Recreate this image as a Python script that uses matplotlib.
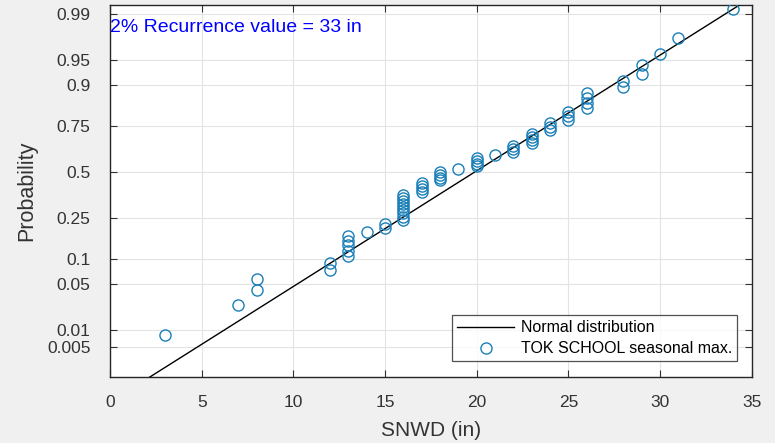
import numpy as np
import matplotlib
matplotlib.use("Agg")
import matplotlib.pyplot as plt
from statistics import NormalDist

# seasonal max snow depth (in), sorted
snwd = [3, 7, 8, 8, 12, 12,
        13, 13, 13, 13, 13, 14, 15, 15,
        16, 16, 16, 16, 16, 16, 16, 16, 16,
        17, 17, 17, 17, 18, 18, 18, 18, 19,
        20, 20, 20, 20, 21, 22, 22, 22,
        23, 23, 23, 23, 24, 24, 24, 25, 25, 25,
        26, 26, 26, 26, 28, 28, 29, 29, 30, 31, 34]

# fitted normal distribution
mu = 19.9
sigma = 5.87

prob_ticks = [0.005, 0.01, 0.05, 0.1, 0.25, 0.5, 0.75, 0.9, 0.95, 0.99]
prob_labels = ["0.005", "0.01", "0.05", "0.1", "0.25", "0.5", "0.75", "0.9", "0.95", "0.99"]
x_ticks = [0, 5, 10, 15, 20, 25, 30, 35]

nd = NormalDist()
_ppf = np.vectorize(lambda p: nd.inv_cdf(min(max(p, 1e-12), 1 - 1e-12)), otypes=[float])
_cdf = np.vectorize(lambda z: nd.cdf(z), otypes=[float])


def fwd(p):
    return _ppf(np.asarray(p, dtype=float))


def inv(z):
    return _cdf(np.asarray(z, dtype=float))


plt.rcParams["font.family"] = ["Liberation Sans", "DejaVu Sans"]

n = len(snwd)
pos = [(i + 0.5) / n for i in range(n)]

fig = plt.figure(figsize=(7.75, 4.43), dpi=100)
fig.patch.set_facecolor("#f0f0f0")
ax = fig.add_axes([0.142, 0.149, 0.828, 0.840])
ax.set_yscale("function", functions=(fwd, inv))

xl = np.array([0.0, 35.0])
ax.plot(xl, [NormalDist(mu, sigma).cdf(v) for v in xl], color="black", lw=1.0,
        label="Normal distribution", zorder=3)
ax.plot(snwd, pos, linestyle="none", marker="o", markersize=8, markerfacecolor="none",
        markeredgecolor="#1a7fb8", markeredgewidth=1.0,
        label="TOK SCHOOL seasonal max.", zorder=4)

ax.set_xlim(0, 35)
ax.set_ylim(NormalDist().cdf(-3.02), NormalDist().cdf(2.46))
ax.set_xticks(x_ticks)
ax.set_yticks(prob_ticks)
ax.set_yticklabels(prob_labels)
ax.yaxis.set_minor_locator(matplotlib.ticker.NullLocator())
ax.grid(True, color="#e3e3e3", lw=0.8)
ax.set_axisbelow(True)
ax.tick_params(direction="in", top=True, right=True, length=5, width=0.8,
               labelsize=12.5, colors="#333333")
ax.tick_params(axis="y", pad=14)
ax.tick_params(axis="x", pad=13)
for s in ax.spines.values():
    s.set_color("#262626")
    s.set_linewidth(1.0)

ax.set_xlabel("SNWD (in)", fontsize=15, color="#333333", labelpad=8)
ax.set_ylabel("Probability", fontsize=15.5, color="#333333", labelpad=7)

ax.text(0.0, 0.94, "2% Recurrence value = 33 in", transform=ax.transAxes,
        color="blue", fontsize=14, ha="left", va="center")

leg = ax.legend(loc="lower right", fontsize=11.5, frameon=True, fancybox=False,
                edgecolor="#262626", handlelength=3.6, handletextpad=0.4,
                borderpad=0.3, labelspacing=0.38, borderaxespad=0,
                bbox_to_anchor=(0.977, 0.043))
leg.get_frame().set_linewidth(0.9)

fig.savefig("out.png", dpi=100, facecolor=fig.get_facecolor())
